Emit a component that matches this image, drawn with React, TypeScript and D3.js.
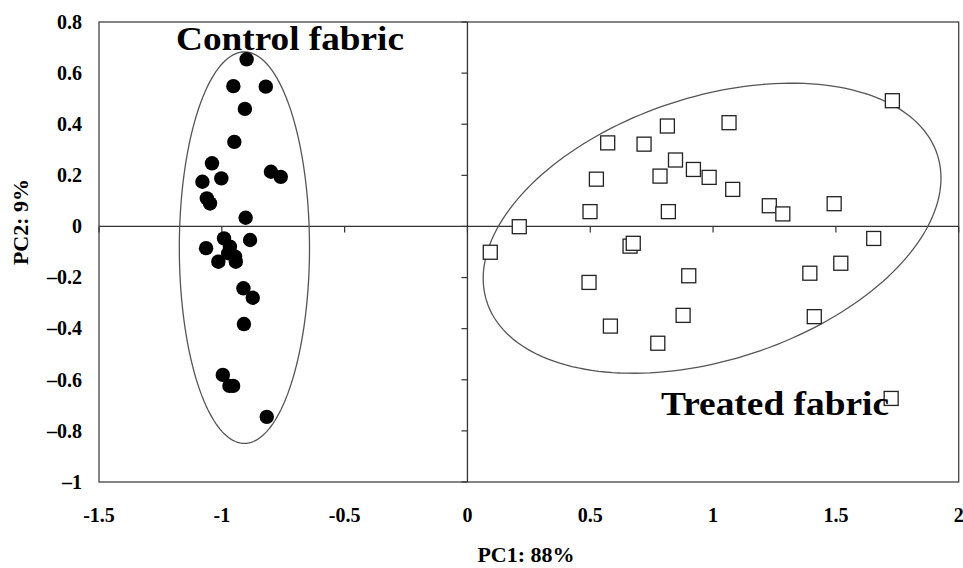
import React from "react";
import * as d3 from "d3";

const W = 963;
const H = 568;

// Control fabric scores (PC1, PC2)
const controlPC1 = [-0.899, -0.953, -0.821, -0.906, -0.949, -1.04, -1.002, -1.079, -0.8, -0.76, -1.061, -1.048, -0.903, -0.991, -0.885, -1.064, -0.967, -0.974, -0.946, -1.014, -0.943, -0.912, -0.874, -0.91, -0.996, -0.969, -0.954, -0.817];
const controlPC2 = [0.654, 0.549, 0.547, 0.46, 0.331, 0.247, 0.188, 0.175, 0.214, 0.194, 0.11, 0.09, 0.034, -0.047, -0.053, -0.085, -0.079, -0.105, -0.118, -0.138, -0.138, -0.242, -0.279, -0.382, -0.581, -0.624, -0.624, -0.745];

// Treated fabric scores (PC1, PC2)
const treatedPC1 = [0.093, 0.211, 0.571, 0.719, 0.814, 0.525, 0.784, 0.847, 0.92, 0.984, 0.499, 0.818, 0.662, 0.675, 0.495, 0.901, 0.582, 0.878, 0.775, 1.73, 1.065, 1.08, 1.229, 1.284, 1.493, 1.654, 1.52, 1.394, 1.412, 1.725];
const treatedPC2 = [-0.101, -0.001, 0.327, 0.322, 0.393, 0.185, 0.197, 0.26, 0.223, 0.192, 0.058, 0.058, -0.077, -0.066, -0.219, -0.193, -0.39, -0.348, -0.457, 0.492, 0.406, 0.145, 0.081, 0.049, 0.089, -0.047, -0.144, -0.183, -0.353, -0.673];

// Confidence ellipses: centre and two semi-axis vectors, in data units
const controlEllipse = { cx: -0.908, cy: -0.083, ax: [0.265, 0], bx: [0, 0.766] };
const treatedEllipse = { cx: 0.996, cy: -0.007, ax: [0.917, 0.288], bx: [0.166, -0.489] };

const xTicks = [-1.5, -1, -0.5, 0, 0.5, 1, 1.5, 2];
const xTickLabels = ["-1.5", "-1", "-0.5", "0", "0.5", "1", "1.5", "2"];
const yTicks = [0.8, 0.6, 0.4, 0.2, 0, -0.2, -0.4, -0.6, -0.8, -1];
const yTickLabels = ["0.8", "0.6", "0.4", "0.2", "0", "\u20130.2", "\u20130.4", "\u20130.6", "\u20130.8", "\u20131"];

const xTitle = "PC1: 88%";
const yTitle = "PC2: 9%";
const controlLabel = "Control fabric";
const treatedLabel = "Treated fabric";

const left = 99;
const right = 958.7;
const top = 22;
const bottom = 482;

const FONT = "'Liberation Serif', 'Times New Roman', serif";

export default function App() {
  const x = d3.scaleLinear().domain([-1.5, 2]).range([left, right]);
  const y = d3.scaleLinear().domain([-1, 0.8]).range([bottom, top]);

  const ellipsePath = (e: { cx: number; cy: number; ax: number[]; bx: number[] }) => {
    const ts = d3.range(0, 361, 2).map((d) => (d * Math.PI) / 180);
    const line = d3
      .line<number>()
      .x((t) => x(e.cx + e.ax[0] * Math.cos(t) + e.bx[0] * Math.sin(t)))
      .y((t) => y(e.cy + e.ax[1] * Math.cos(t) + e.bx[1] * Math.sin(t)))
      .curve(d3.curveLinearClosed);
    return line(ts) || "";
  };

  const x0 = x(0);
  const y0 = y(0);
  const sq = 14;

  return (
    <svg width={W} height={H} style={{ position: "absolute", left: 0, top: 0, background: "#fff" }}>
      {/* frame */}
      <rect x={left} y={top} width={right - left} height={bottom - top} fill="none" stroke="#444" strokeWidth={1.3} />
      {/* zero axes */}
      <line x1={left} x2={right} y1={y0} y2={y0} stroke="#333" strokeWidth={1.3} />
      <line x1={x0} x2={x0} y1={top} y2={bottom} stroke="#333" strokeWidth={1.3} />
      {xTicks.map((t, i) => (
        <line key={"xt" + i} x1={x(t)} x2={x(t)} y1={y0} y2={y0 + 6} stroke="#333" strokeWidth={1.2} />
      ))}
      {yTicks.map((t, i) => (
        <line key={"yt" + i} x1={x0 - 6} x2={x0} y1={y(t)} y2={y(t)} stroke="#333" strokeWidth={1.2} />
      ))}
      {/* tick labels */}
      {xTicks.map((t, i) => (
        <text key={"xl" + i} x={x(t)} y={521.5} textAnchor="middle" fontFamily={FONT} fontWeight="bold" fontSize={20}>
          {xTickLabels[i]}
        </text>
      ))}
      {yTicks.map((t, i) => (
        <text key={"yl" + i} x={82} y={y(t) + 6.8} textAnchor="end" fontFamily={FONT} fontWeight="bold" fontSize={20}>
          {yTickLabels[i]}
        </text>
      ))}
      {/* axis titles */}
      <text x={526} y={562} textAnchor="middle" fontFamily={FONT} fontWeight="bold" fontSize={22}>
        {xTitle}
      </text>
      <text transform={`translate(28,222) rotate(-90)`} textAnchor="middle" fontFamily={FONT} fontWeight="bold" fontSize={22}>
        {yTitle}
      </text>
      {/* ellipses */}
      <path d={ellipsePath(controlEllipse)} fill="none" stroke="#555" strokeWidth={1.3} />
      <path d={ellipsePath(treatedEllipse)} fill="none" stroke="#555" strokeWidth={1.3} />
      {/* points */}
      {controlPC1.map((v, i) => (
        <circle key={"c" + i} cx={x(v)} cy={y(controlPC2[i])} r={7.2} fill="#000" />
      ))}
      {treatedPC1.map((v, i) => (
        <rect key={"t" + i} x={x(v) - sq / 2} y={y(treatedPC2[i]) - sq / 2} width={sq} height={sq} fill="#fff" stroke="#222" strokeWidth={1.3} />
      ))}
      {/* group labels */}
      <text x={176} y={50} fontFamily={FONT} fontWeight="bold" fontSize={33} textLength={228} lengthAdjust="spacingAndGlyphs">
        {controlLabel}
      </text>
      <text x={661} y={415} fontFamily={FONT} fontWeight="bold" fontSize={33} textLength={228} lengthAdjust="spacingAndGlyphs">
        {treatedLabel}
      </text>
    </svg>
  );
}
